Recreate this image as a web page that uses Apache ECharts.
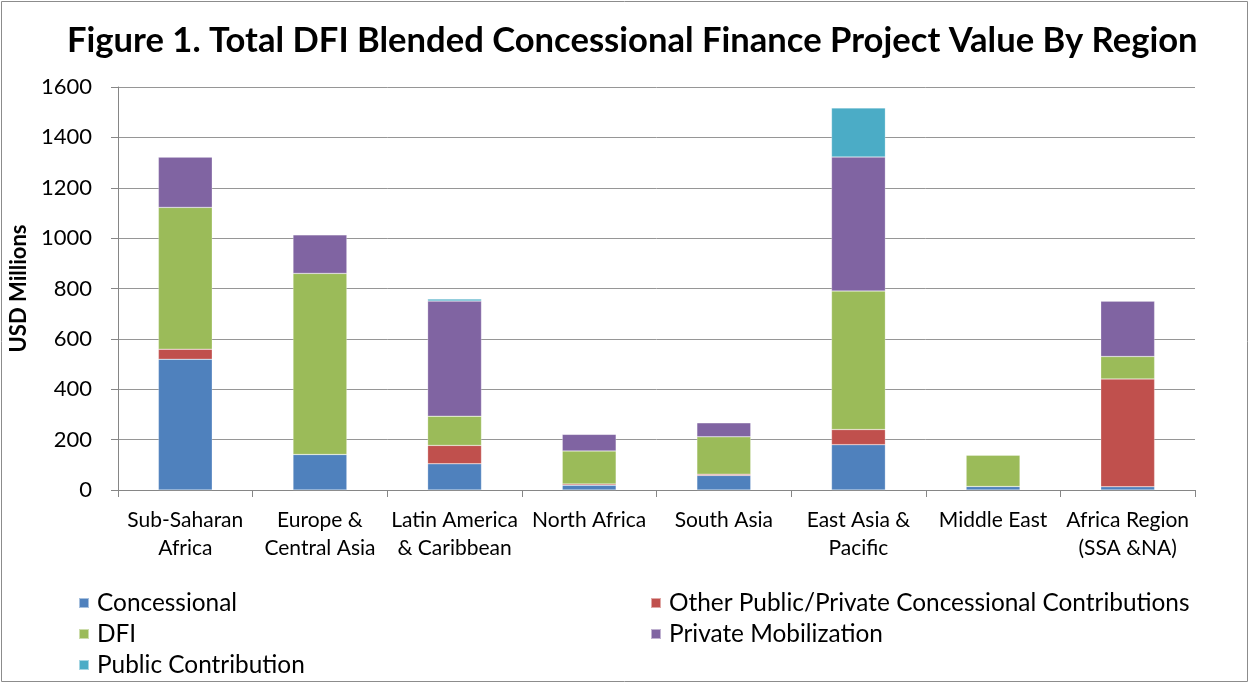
<!DOCTYPE html>
<html>
<head>
<meta charset="utf-8">
<script src="https://cdn.jsdelivr.net/npm/echarts@6/dist/echarts.min.js"></script>
<style>html,body{margin:0;padding:0;background:#fff}#c{width:1250px;height:684px}</style>
</head>
<body>
<div id="c"></div>
<script>
const categories = ['Sub-Saharan\nAfrica', 'Europe &\nCentral Asia', 'Latin America\n& Caribbean', 'North Africa', 'South Asia', 'East Asia &\nPacific', 'Middle East', 'Africa Region\n(SSA &NA)'];
const concessional = [519, 141, 104, 19, 58, 180, 14, 13];
const otherContrib = [40, 0, 73, 5, 5, 60, 0, 428];
const dfi = [563, 719, 116, 131, 148, 550, 125, 89];
const privateMob = [200, 153, 457, 66, 56, 532, 0, 220];
const publicContrib = [0, 0, 8, 0, 0, 195, 0, 0];
const yTicks = [0, 200, 400, 600, 800, 1000, 1200, 1400, 1600];

const FONT = 'Lato, "Open Sans", sans-serif';
const names = ['Concessional', 'Other Public/Private Concessional Contributions', 'DFI', 'Private Mobilization', 'Public Contribution'];
const colors = ['#4F81BD', '#C0504D', '#9BBB59', '#8064A2', '#4BACC6'];
const values = [concessional, otherContrib, dfi, privateMob, publicContrib];

const chart = echarts.init(document.getElementById('c'), null, {renderer: 'canvas'});
const legendCommon = {
  orient: 'vertical', icon: 'rect', itemWidth: 10, itemHeight: 10, itemGap: 7, padding: 0, height: 120,
  textStyle: {fontFamily: FONT, fontSize: 24.4, color: '#000', lineHeight: 24, padding: [0, 0, 0, 3]},
  selectedMode: false
};
chart.setOption({
  animation: false,
  color: colors,
  title: {
    text: 'Figure 1. Total DFI Blended Concessional Finance Project Value By Region',
    left: 67, top: 23, padding: 0,
    textStyle: {fontFamily: FONT, fontWeight: 'bold', fontSize: 34.6, color: '#000'}
  },
  graphic: [{type: 'rect', shape: {x: 1.5, y: 1.5, width: 1246, height: 680}, style: {fill: 'none', stroke: '#8c8c8c', lineWidth: 1}, silent: true}],
  legend: [
    Object.assign({left: 78, top: 591, data: [names[0], names[2], names[4]]}, legendCommon),
    Object.assign({left: 650, top: 591, data: [names[1], names[3]]}, legendCommon)
  ],
  grid: {left: 118, right: 55, top: 87, bottom: 194, containLabel: false, outerBoundsMode: 'none'},
  xAxis: {
    type: 'category', data: categories,
    axisLine: {lineStyle: {color: '#868686', width: 1}},
    axisTick: {show: true, length: 7, lineStyle: {color: '#868686'}},
    axisLabel: {fontFamily: FONT, fontSize: 21, color: '#000', lineHeight: 28, margin: 16, interval: 0}
  },
  yAxis: {
    type: 'value', min: 0, max: 1600, interval: 200,
    name: 'USD Millions', nameLocation: 'middle', nameGap: 84, nameRotate: 90,
    nameTextStyle: {fontFamily: FONT, fontWeight: 'bold', fontSize: 22, color: '#000'},
    axisLine: {show: true, lineStyle: {color: '#868686', width: 1}},
    axisTick: {show: true, length: 7, lineStyle: {color: '#868686'}},
    splitLine: {lineStyle: {color: '#969696', width: 1}},
    axisLabel: {fontFamily: FONT, fontSize: 22, color: '#000', margin: 26,
      formatter: v => yTicks.includes(v) ? String(v) : ''}
  },
  series: names.map((n, i) => ({
    name: n, type: 'bar', stack: 'total', data: values[i], barWidth: '40%',
    itemStyle: {color: colors[i], borderColor: 'rgba(255,255,255,0.5)', borderWidth: 0.5}
  }))
});
</script>
</body>
</html>
